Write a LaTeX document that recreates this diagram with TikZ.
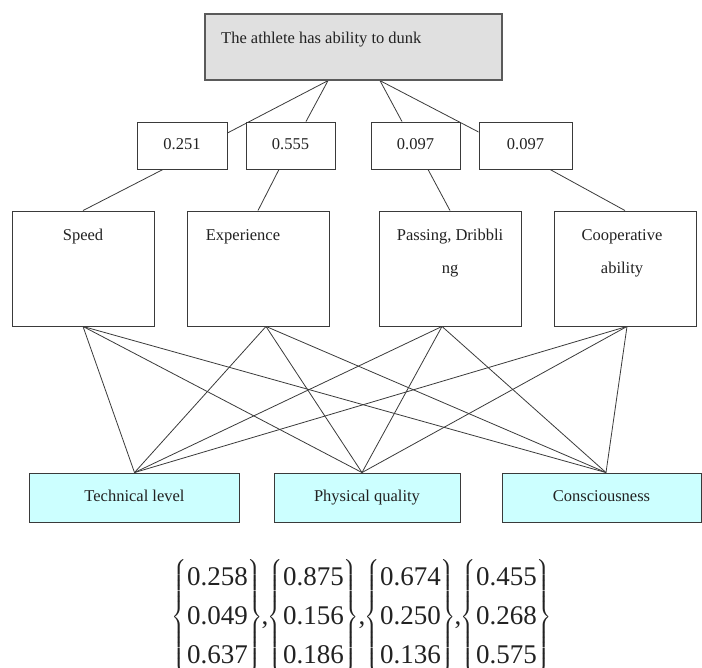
\documentclass[tikz,border=0pt]{standalone}
\usepackage{fontspec}
\usepackage{amsmath}
\setmainfont{Liberation Serif}
\usetikzlibrary{backgrounds}
\definecolor{topfill}{HTML}{E0E0E0}
\definecolor{topdraw}{HTML}{5A5A5A}
\definecolor{botfill}{HTML}{CCFFFF}
\definecolor{linecol}{HTML}{3A3A3A}
\definecolor{txtcol}{HTML}{222222}
\newcommand{\vecthree}[3]{$\scriptstyle\left\{\begin{matrix}\mbox{#1}\\ \mbox{#2}\\ \mbox{#3}\end{matrix}\right\}$}
\tikzset{
  box/.style={draw=linecol, line width=0.9pt, fill=white, rectangle, inner sep=0pt},
  topbox/.style={draw=topdraw, line width=1.3pt, fill=topfill, rectangle, inner sep=0pt, minimum width=297pt, minimum height=66pt},
  wbox/.style={box, minimum height=47pt, font=\fontsize{16.5}{20}\selectfont, text=txtcol, text height=11.5pt, text depth=3.5pt},
  cbox/.style={box, minimum width=142pt, minimum height=115pt},
  bbox/.style={draw=linecol, line width=0.9pt, fill=botfill, rectangle, inner sep=0pt, minimum height=49pt, font=\fontsize{16.5}{20}\selectfont, text=txtcol, text height=11.5pt, text depth=3.5pt},
  lbl/.style={inner sep=0pt, font=\fontsize{16.5}{33}\selectfont, text=txtcol, align=center},
  vecnode/.style={inner sep=0pt, text=txtcol, font=\fontsize{27}{39}\selectfont},
  commanode/.style={inner sep=0pt, text=txtcol, font=\fontsize{27}{39}\selectfont, anchor=base},
  conn/.style={draw=linecol, line width=0.8pt}
}
\begin{document}
\begin{tikzpicture}[x=1pt,y=-1pt]
\useasboundingbox (0,0) rectangle (702,668);
% top
\node[topbox] (top) at (353.5,47) {};
\node[lbl, anchor=west] (toptxt) at (221,40) {The athlete has ability to dunk};
% weights
\node[wbox, minimum width=90pt] (w1) at (182,145.5) {0.251};
\node[wbox, minimum width=89pt] (w2) at (290.5,145.5) {0.555};
\node[wbox, minimum width=89pt] (w3) at (415.5,145.5) {0.097};
\node[wbox, minimum width=93pt] (w4) at (525.5,145.5) {0.097};
% criteria
\node[cbox] (spd) at (83,268.5) {};
\node[cbox] (exp) at (258,268.5) {};
\node[cbox] (pas) at (450,268.5) {};
\node[cbox] (coo) at (625,268.5) {};
\node[lbl] (spdt) at (83,237) {Speed};
\node[lbl] (expt) at (243,237) {Experience};
\node[lbl] (past) at (450,253.5) {Passing, Dribbli\\ng};
\node[lbl] (coot) at (622,253.5) {Cooperative\\ability};
% bottom
\node[bbox, minimum width=210pt] (tec) at (134.5,497.5) {Technical level};
\node[bbox, minimum width=186pt] (phy) at (367,497.5) {Physical quality};
\node[bbox, minimum width=199pt] (con) at (601.5,497.5) {Consciousness};
% vectors
\node[vecnode] (v1) at (217.5,617) {\vecthree{0.258}{0.049}{0.637}};
\node[vecnode] (v2) at (313.5,617) {\vecthree{0.875}{0.156}{0.186}};
\node[vecnode] (v3) at (410.5,617) {\vecthree{0.674}{0.250}{0.136}};
\node[vecnode] (v4) at (506.5,617) {\vecthree{0.455}{0.268}{0.575}};
\node[commanode] (c1) at (265,624) {,};
\node[commanode] (c2) at (362,624) {,};
\node[commanode] (c3) at (458,624) {,};
% connectors
\begin{scope}[on background layer]
\coordinate (tl) at ([xshift=-25.5pt]top.south);
\coordinate (tr) at ([xshift=26.5pt]top.south);
\draw[conn] (tl) -- ([yshift=12.5pt]w1.east);
\draw[conn] (tl) -- ([xshift=15.5pt]w2.north);
\draw[conn] (tr) -- ([xshift=-13.5pt]w3.north);
\draw[conn] (tr) -- ([yshift=13.5pt]w4.west);
\draw[conn] ([xshift=-19pt]w1.south) -- (spd.north);
\draw[conn] ([xshift=-11.5pt]w2.south) -- (exp.north);
\draw[conn] ([xshift=12.5pt]w3.south) -- (pas.north);
\draw[conn] ([xshift=24.5pt]w4.south) -- (coo.north);
\coordinate (sB) at (spd.south);
\coordinate (eB) at ([xshift=8pt]exp.south);
\coordinate (pB) at ([xshift=-8pt]pas.south);
\coordinate (cB) at ([xshift=2pt]coo.south);
\coordinate (tT) at (tec.north);
\coordinate (pT) at ([xshift=-5pt]phy.north);
\coordinate (cT) at ([xshift=4.5pt]con.north);
\foreach \s in {sB,eB,pB,cB}{
  \foreach \t in {tT,pT,cT}{
    \draw[conn] (\s) -- (\t);
  }
}
\end{scope}
\end{tikzpicture}
\end{document}
